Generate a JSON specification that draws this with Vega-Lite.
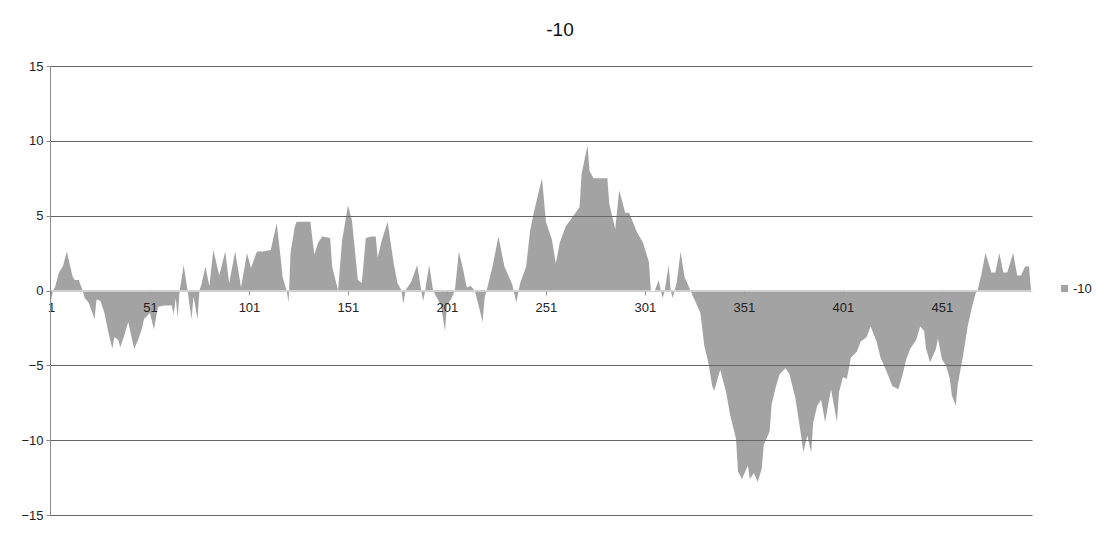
{
  "$schema": "https://vega.github.io/schema/vega-lite/v6.json",
  "width": 982,
  "height": 449,
  "autosize": "none",
  "padding": {"left": 50, "top": 66, "right": 88, "bottom": 33},
  "background": "white",
  "title": {"text": "-10", "fontSize": 19, "font": "Liberation Sans", "fontWeight": "normal", "color": "#111111", "dx": 19, "offset": 20, "anchor": "middle"},
  "data": {"values": [
    {"i":1,"v":-0.7},{"i":2,"v":0},{"i":3,"v":0.2},{"i":5,"v":1.2},{"i":7,"v":1.6},{"i":9,"v":2.6},{"i":10,"v":2.0},{"i":12,"v":0.9},{"i":13,"v":0.7},{"i":15,"v":0.7},{"i":17,"v":0},
    {"i":18,"v":-0.5},{"i":20,"v":-0.8},{"i":23,"v":-1.9},{"i":24,"v":-0.6},{"i":26,"v":-0.7},{"i":28,"v":-1.5},{"i":30,"v":-2.8},{"i":32,"v":-3.9},{"i":33,"v":-3.1},{"i":35,"v":-3.3},{"i":36,"v":-3.8},{"i":38,"v":-3.0},{"i":40,"v":-2.1},{"i":43,"v":-3.9},{"i":45,"v":-3.3},{"i":47,"v":-2.5},{"i":48,"v":-1.9},{"i":51,"v":-1.5},{"i":53,"v":-2.6},{"i":55,"v":-1.1},{"i":58,"v":-1.0},{"i":62,"v":-1.0},{"i":63,"v":-1.6},{"i":64,"v":-0.5},{"i":65,"v":-1.8},{"i":66,"v":0},
    {"i":67,"v":0.8},{"i":68,"v":1.7},{"i":70,"v":0},{"i":71,"v":-1.0},{"i":72,"v":-1.9},{"i":73,"v":-0.4},{"i":75,"v":-1.9},{"i":76,"v":0},{"i":77,"v":0.4},{"i":79,"v":1.6},{"i":81,"v":0.3},{"i":83,"v":2.7},{"i":86,"v":1.0},{"i":89,"v":2.6},{"i":91,"v":0.5},{"i":94,"v":2.6},{"i":97,"v":0.2},{"i":100,"v":2.5},{"i":102,"v":1.5},{"i":105,"v":2.6},{"i":108,"v":2.6},{"i":112,"v":2.7},{"i":115,"v":4.5},{"i":117,"v":2.2},{"i":118,"v":0.9},{"i":120,"v":0},{"i":121,"v":-0.8},{"i":122,"v":2.5},{"i":124,"v":4.2},{"i":125,"v":4.6},{"i":132,"v":4.6},{"i":134,"v":2.4},{"i":136,"v":3.2},{"i":138,"v":3.6},{"i":142,"v":3.5},{"i":143,"v":1.6},{"i":146,"v":0},
    {"i":148,"v":3.3},{"i":151,"v":5.7},{"i":153,"v":4.7},{"i":156,"v":0.7},{"i":158,"v":0.5},{"i":160,"v":3.5},{"i":163,"v":3.6},{"i":165,"v":3.6},{"i":166,"v":2.2},{"i":168,"v":3.3},{"i":171,"v":4.6},{"i":174,"v":1.9},{"i":176,"v":0.5},{"i":178,"v":0},{"i":179,"v":-0.9},{"i":180,"v":0},{"i":183,"v":0.6},{"i":186,"v":1.7},{"i":188,"v":0},{"i":189,"v":-0.7},{"i":190,"v":0},{"i":192,"v":1.7},{"i":194,"v":0},
    {"i":196,"v":-0.5},{"i":198,"v":-1.0},{"i":200,"v":-2.7},{"i":201,"v":-1.0},{"i":203,"v":-0.6},{"i":205,"v":0},{"i":207,"v":2.6},{"i":209,"v":1.5},{"i":211,"v":0.2},{"i":213,"v":0.3},{"i":215,"v":0},{"i":217,"v":-1.0},{"i":219,"v":-2.1},{"i":220,"v":-0.5},{"i":222,"v":0.5},{"i":224,"v":1.6},{"i":227,"v":3.6},{"i":230,"v":1.6},{"i":234,"v":0.4},{"i":236,"v":-0.8},{"i":238,"v":0.5},
    {"i":241,"v":1.6},{"i":243,"v":4.0},{"i":245,"v":5.3},{"i":249,"v":7.5},{"i":251,"v":4.6},{"i":254,"v":3.4},{"i":256,"v":1.8},{"i":258,"v":3.2},{"i":261,"v":4.3},{"i":266,"v":5.2},{"i":268,"v":5.6},{"i":269,"v":7.8},{"i":272,"v":9.7},{"i":273,"v":8.0},{"i":275,"v":7.5},{"i":282,"v":7.5},{"i":283,"v":5.8},{"i":286,"v":4.1},{"i":288,"v":6.7},{"i":291,"v":5.2},{"i":293,"v":5.2},{"i":297,"v":3.9},{"i":300,"v":3.2},{"i":303,"v":1.9},{"i":304,"v":0},
    {"i":306,"v":0},{"i":308,"v":0.7},{"i":309,"v":0},{"i":310,"v":-0.5},{"i":311,"v":0},{"i":313,"v":1.7},{"i":314,"v":0},{"i":315,"v":-0.5},{"i":317,"v":0.5},{"i":319,"v":2.6},{"i":321,"v":0.9},{"i":324,"v":0},
    {"i":326,"v":-0.6},{"i":329,"v":-1.5},{"i":331,"v":-3.7},{"i":333,"v":-4.8},{"i":335,"v":-6.4},{"i":336,"v":-6.7},{"i":339,"v":-5.3},{"i":342,"v":-6.8},{"i":344,"v":-8.3},{"i":347,"v":-9.9},{"i":348,"v":-12.1},{"i":350,"v":-12.6},{"i":353,"v":-11.7},{"i":354,"v":-12.6},{"i":356,"v":-12.2},{"i":358,"v":-12.8},{"i":360,"v":-11.9},{"i":361,"v":-10.3},{"i":364,"v":-9.4},{"i":365,"v":-7.6},{"i":367,"v":-6.5},{"i":369,"v":-5.6},{"i":372,"v":-5.2},{"i":374,"v":-5.6},{"i":377,"v":-7.2},{"i":380,"v":-9.8},{"i":381,"v":-10.8},{"i":383,"v":-9.7},{"i":385,"v":-10.8},{"i":386,"v":-8.8},{"i":388,"v":-7.7},{"i":390,"v":-7.3},{"i":392,"v":-8.8},{"i":394,"v":-7.3},{"i":395,"v":-6.6},{"i":398,"v":-8.8},{"i":399,"v":-6.8},{"i":401,"v":-5.8},{"i":403,"v":-5.9},{"i":405,"v":-4.5},{"i":408,"v":-4.1},{"i":410,"v":-3.4},{"i":413,"v":-3.1},{"i":415,"v":-2.4},{"i":418,"v":-3.4},{"i":420,"v":-4.5},{"i":423,"v":-5.4},{"i":426,"v":-6.4},{"i":429,"v":-6.6},{"i":431,"v":-5.7},{"i":433,"v":-4.6},{"i":435,"v":-3.9},{"i":438,"v":-3.3},{"i":440,"v":-2.4},{"i":442,"v":-2.7},{"i":443,"v":-3.9},{"i":445,"v":-4.8},{"i":448,"v":-3.9},{"i":449,"v":-3.2},{"i":451,"v":-4.6},{"i":453,"v":-5.0},{"i":455,"v":-5.9},{"i":456,"v":-7.0},{"i":458,"v":-7.7},{"i":459,"v":-6.3},{"i":462,"v":-4.1},{"i":464,"v":-2.4},{"i":466,"v":-1.2},{"i":468,"v":-0.2},{"i":469,"v":0},
    {"i":471,"v":1.1},{"i":473,"v":2.5},{"i":476,"v":1.2},{"i":478,"v":1.2},{"i":480,"v":2.5},{"i":482,"v":1.2},{"i":484,"v":1.2},{"i":487,"v":2.5},{"i":489,"v":1.0},{"i":491,"v":1.0},{"i":493,"v":1.6},{"i":495,"v":1.6},{"i":496,"v":0}
  ]},
  "mark": {"type": "area", "interpolate": "linear", "opacity": 1},
  "encoding": {
    "x": {
      "field": "i", "type": "quantitative",
      "scale": {"domain": [0.5, 496.5], "nice": false, "zero": false},
      "axis": {
        "title": null, "values": [1, 51, 101, 151, 201, 251, 301, 351, 401, 451],
        "offset": -224, "domain": false, "grid": false,
        "ticks": true, "tickSize": 4, "tickColor": "#9a9a9a",
        "labelFont": "Liberation Sans", "labelFontSize": 13, "labelColor": "#222222", "labelPadding": 6,
        "labelFlush": false, "labelOverlap": false, "zindex": 1
      }
    },
    "y": {
      "field": "v", "type": "quantitative",
      "scale": {"domain": [-15, 15], "nice": false},
      "axis": {
        "title": null, "values": [-15, -10, -5, 0, 5, 10, 15],
        "domain": true, "domainColor": "#8a8a8a",
        "grid": true, "gridColor": {"condition": {"test": "datum.value === 0", "value": "#cfcfcf"}, "value": "#666666"},
        "gridWidth": 1,
        "ticks": true, "tickSize": 4, "tickColor": "#8a8a8a",
        "labelFont": "Liberation Sans", "labelFontSize": 13, "labelColor": "#222222", "labelPadding": 3,
        "labelFlush": false, "zindex": 1
      }
    },
    "color": {
      "datum": "-10",
      "scale": {"range": ["#a3a3a3"]},
      "legend": {
        "title": null, "orient": "none", "legendX": 1008, "legendY": 216,
        "symbolType": "square", "symbolSize": 50, "symbolStrokeWidth": 0,
        "labelFont": "Liberation Sans", "labelFontSize": 13, "labelColor": "#222222", "labelOffset": 2
      }
    }
  },
  "config": {"view": {"stroke": null}}
}
